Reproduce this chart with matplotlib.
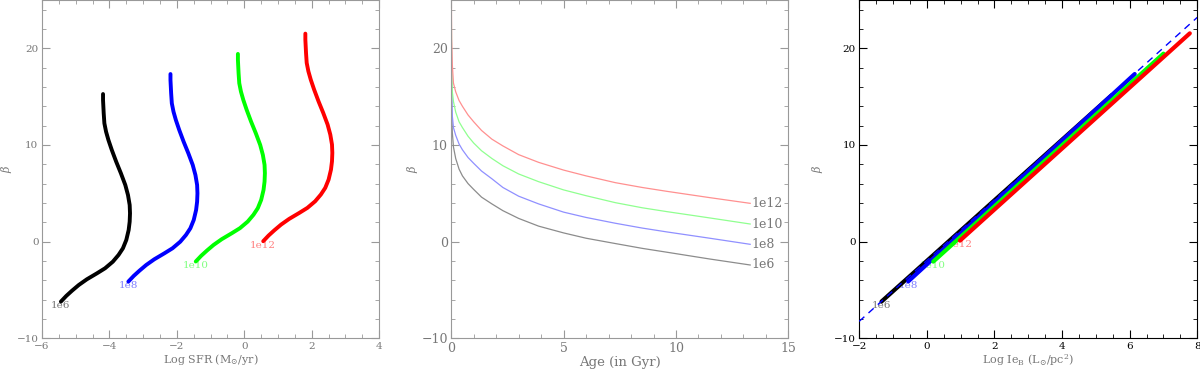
import matplotlib.pyplot as plt
from matplotlib.ticker import MultipleLocator

plt.rcParams['font.family'] = ['DejaVu Serif']
plt.rcParams['mathtext.fontset'] = 'dejavuserif'

masses = ['1e6', '1e8', '1e10', '1e12']
line_colors = ['black', 'blue', '#00ff00', 'red']
label_colors = ['#777777', '#8080ff', '#80ff80', '#ff8080']
age_colors = ['#8c8c8c', '#9090ff', '#90ff90', '#ff9090']

# panel 1: log SFR vs beta
sfr_1e6 = [-5.44, -5.28, -5.11, -4.91, -4.67, -4.37, -4.13, -3.90, -3.73, -3.60, -3.50, -3.43, -3.40, -3.39,
           -3.40, -3.45, -3.53, -3.66, -3.80, -3.93, -4.03, -4.10, -4.15, -4.17, -4.18, -4.19, -4.19]
beta_1e6 = [-6.21, -5.62, -5.08, -4.49, -3.90, -3.28, -2.76, -2.08, -1.38, -0.69, 0.17, 1.20, 2.06, 2.93,
            3.79, 4.82, 5.86, 7.07, 8.27, 9.48, 10.51, 11.37, 12.24, 13.27, 13.96, 14.65, 15.27]
sfr_1e8 = [-3.44, -3.28, -3.11, -2.91, -2.67, -2.37, -2.13, -1.90, -1.73, -1.60, -1.50, -1.43, -1.40, -1.39,
           -1.40, -1.45, -1.53, -1.66, -1.80, -1.93, -2.03, -2.10, -2.15, -2.17, -2.18, -2.19, -2.19]
beta_1e8 = [-4.14, -3.55, -3.01, -2.42, -1.83, -1.21, -0.69, -0.01, 0.69, 1.38, 2.24, 3.27, 4.13, 5.00,
            5.86, 6.89, 7.93, 9.14, 10.34, 11.55, 12.58, 13.44, 14.31, 15.34, 16.03, 16.72, 17.34]
sfr_1e10 = [-1.44, -1.28, -1.11, -0.91, -0.67, -0.37, -0.13, 0.10, 0.27, 0.40, 0.50, 0.57, 0.60, 0.61,
            0.60, 0.55, 0.47, 0.34, 0.20, 0.07, -0.03, -0.10, -0.15, -0.17, -0.18, -0.19, -0.19]
beta_1e10 = [-2.06, -1.47, -0.93, -0.34, 0.25, 0.87, 1.39, 2.07, 2.77, 3.46, 4.32, 5.35, 6.21, 7.08,
             7.94, 8.97, 10.01, 11.22, 12.42, 13.63, 14.66, 15.52, 16.39, 17.42, 18.11, 18.80, 19.42]
sfr_1e12 = [0.56, 0.72, 0.89, 1.09, 1.33, 1.63, 1.87, 2.10, 2.27, 2.40, 2.50, 2.57, 2.60, 2.61,
            2.60, 2.55, 2.47, 2.34, 2.20, 2.07, 1.97, 1.90, 1.85, 1.83, 1.82, 1.81, 1.81]
beta_1e12 = [0.04, 0.63, 1.17, 1.76, 2.35, 2.97, 3.49, 4.17, 4.87, 5.56, 6.42, 7.45, 8.31, 9.18,
             10.04, 11.07, 12.11, 13.32, 14.52, 15.73, 16.76, 17.62, 18.49, 19.52, 20.21, 20.90, 21.52]
sfr = [sfr_1e6, sfr_1e8, sfr_1e10, sfr_1e12]
beta_sfr = [beta_1e6, beta_1e8, beta_1e10, beta_1e12]

# panel 2: age (Gyr) vs beta
age = [0.005, 0.02, 0.05, 0.1, 0.2, 0.35, 0.5, 0.75, 1.0, 1.35, 1.81, 2.3, 3.0, 3.89,
       5.0, 6.0, 7.3, 8.5, 9.6, 11.5, 13.3]
bage_1e6 = [19.0, 13.5, 11.3, 9.8, 8.6, 7.5, 6.8, 6.0, 5.4, 4.6, 3.9, 3.2, 2.4, 1.6,
            0.9, 0.35, -0.2, -0.7, -1.1, -1.8, -2.42]
bage_1e8 = [22.0, 16.0, 13.0, 11.8, 11.0, 10.1, 9.5, 8.7, 8.1, 7.3, 6.5, 5.6, 4.7, 3.9,
            3.05, 2.5, 1.9, 1.4, 1.0, 0.35, -0.28]
bage_1e10 = [24.0, 18.0, 15.5, 14.5, 13.4, 12.4, 11.8, 10.9, 10.2, 9.4, 8.6, 7.85, 7.0, 6.2,
             5.35, 4.75, 4.03, 3.5, 3.1, 2.45, 1.82]
bage_1e12 = [26.0, 21.0, 18.3, 16.4, 15.5, 14.6, 14.0, 13.1, 12.4, 11.5, 10.6, 9.9, 9.0, 8.2,
             7.4, 6.8, 6.1, 5.6, 5.2, 4.55, 3.96]
beta_age = [bage_1e6, bage_1e8, bage_1e10, bage_1e12]

# panel 3: log Ie_B vs beta (end points of each track) and the fitted line
ie_tracks = [[-1.34, 5.47], [-0.55, 6.15], [0.19, 7.0], [0.98, 7.78]]
beta_tracks = [[-6.2, 15.15], [-4.12, 17.34], [-2.07, 19.45], [0.1, 21.55]]
fit_ie = [-2.0, 8.0]
fit_beta = [-8.25, 23.2]

fig = plt.figure(figsize=(12, 3.75), dpi=100)
ax1 = fig.add_axes([0.035, 0.098, 0.281, 0.902])
ax2 = fig.add_axes([0.376, 0.098, 0.281, 0.902])
ax3 = fig.add_axes([0.716, 0.098, 0.2817, 0.902])

grey = '#999999'
txt = '#777777'


def style(ax, xmaj, xmin, spine_col, lab_col, size):
    ax.set_ylim(-10, 25)
    ax.xaxis.set_major_locator(MultipleLocator(xmaj))
    ax.xaxis.set_minor_locator(MultipleLocator(xmin))
    ax.yaxis.set_major_locator(MultipleLocator(10))
    ax.yaxis.set_minor_locator(MultipleLocator(2))
    ax.tick_params(which='both', direction='in', top=True, right=True,
                   color=spine_col, labelcolor=lab_col, labelsize=size, pad=2.5)
    ax.tick_params(which='major', length=6)
    ax.tick_params(which='minor', length=3)
    for s in ax.spines.values():
        s.set_color(spine_col)


# left panel
for i in range(4):
    ax1.plot(sfr[i], beta_sfr[i], color=line_colors[i], lw=2.8,
             solid_capstyle='round', solid_joinstyle='round', zorder=3)
    ax1.text(sfr[i][0], beta_sfr[i][0] - 0.4, masses[i], color=label_colors[i],
             ha='center', va='center', fontsize=7.5, zorder=2)
ax1.set_xlim(-6, 4)
style(ax1, 2, 0.5, grey, txt, 7.5)
ax1.set_xlabel(r'Log SFR (M$_{\odot}$/yr)', color=txt, fontsize=8, labelpad=1)
ax1.set_ylabel(r'$\beta$', color=txt, fontsize=8, labelpad=2)

# middle panel
for i in range(4):
    ax2.plot(age, beta_age[i], color=age_colors[i], lw=0.9)
    ax2.text(age[-1] + 0.05, beta_age[i][-1], masses[i], color=txt,
             ha='left', va='center', fontsize=9)
ax2.set_xlim(0, 15)
style(ax2, 5, 1, grey, txt, 9)
ax2.set_xlabel('Age (in Gyr)', color=txt, fontsize=9.5, labelpad=1)
ax2.set_ylabel(r'$\beta$', color=txt, fontsize=8, labelpad=1)

# right panel
for i in [3, 2, 1, 0]:
    ax3.text(ie_tracks[i][0], beta_tracks[i][0] - 0.4, masses[i],
             color=label_colors[i], ha='center', va='center', fontsize=7.5, zorder=2)
for i in [0, 1, 2, 3]:
    ax3.plot(ie_tracks[i], beta_tracks[i], color=line_colors[i], lw=3.0,
             solid_capstyle='round', zorder=3)
ax3.plot(fit_ie, fit_beta, color='blue', lw=1, ls=(0, (5, 4)), zorder=4)
ax3.set_xlim(-2, 8)
style(ax3, 2, 0.5, 'black', 'black', 7.5)
ax3.set_xlabel(r'Log Ie$_{\rm B}$ (L$_{\odot}$/pc$^2$)', color=txt, fontsize=8, labelpad=1)
ax3.set_ylabel(r'$\beta$', color=txt, fontsize=8, labelpad=6)

fig.savefig('out.png', dpi=100)
